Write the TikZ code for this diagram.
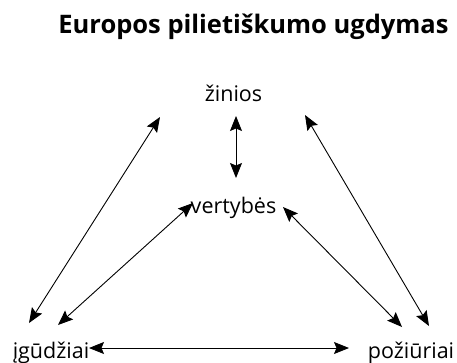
\documentclass[tikz,border=0pt]{standalone}
\usepackage{fontspec}
\setmainfont{Open Sans}
\usetikzlibrary{arrows.meta}
\tikzset{
  lbl/.style={inner sep=0pt, anchor=base, font=\fontsize{21.5}{24}\selectfont},
  ttl/.style={inner sep=0pt, anchor=base, font=\fontsize{25.5}{28}\selectfont\bfseries},
  tip/.style={Stealth[length=15pt,width=12pt,inset=2.5pt]},
  arr/.style={line width=0.9pt, {Stealth[length=15pt,width=12pt,inset=2.5pt]}-{Stealth[length=15pt,width=12pt,inset=2.5pt]}}
}
\begin{document}
\begin{tikzpicture}[x=1pt,y=-1pt]
\useasboundingbox (0,0) rectangle (457,362);
\node[ttl] (title) at (253.5,33) {Europos pilietiškumo ugdymas};
\node[lbl] (zin) at (233.5,101) {žinios};
\node[lbl] (ver) at (233.5,213) {vertybės};
\node[lbl] (igu) at (51,358) {įgūdžiai};
\node[lbl] (poz) at (411,358) {požiūriai};
% connector end points
\coordinate (zinL) at (160,117);
\coordinate (zinC) at (236,116);
\coordinate (zinR) at (305,115);
\coordinate (verC) at (236,178);
\coordinate (verL) at (193,203);
\coordinate (verR) at (283,207);
\coordinate (iguA) at (29,323);
\coordinate (iguB) at (58,325);
\coordinate (iguH) at (89,348);
\coordinate (pozA) at (402,327);
\coordinate (pozB) at (429,326);
\coordinate (pozH) at (349,348);
\draw[arr] (zinL) -- (iguA);
\draw[arr] (zinC) -- (verC);
\draw[arr] (zinR) -- (pozB);
\draw[arr] (verL) -- (iguB);
\draw[arr] (verR) -- (pozA);
\draw[arr] (iguH) -- (pozH);
\end{tikzpicture}
\end{document}
